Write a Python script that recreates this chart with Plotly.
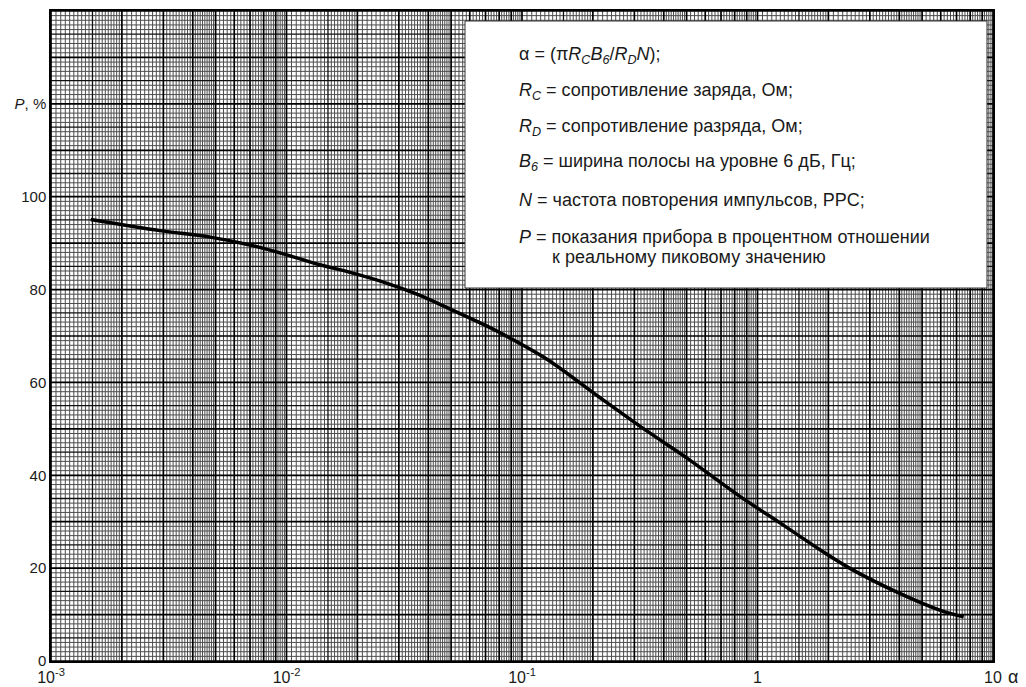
import numpy as np
import plotly.graph_objects as go

# ---- data ----
alpha = [0.001475, 0.0029, 0.00474, 0.0070, 0.0097, 0.01345, 0.01863, 0.02581,
         0.03577, 0.04955, 0.0686, 0.0807, 0.1276, 0.2147, 0.340, 0.502, 0.845,
         1.25, 1.85, 2.48, 4.04, 5.98, 7.51]
P_pct = [95.1, 92.7, 91.3, 89.6, 87.7, 85.5, 83.7, 81.6,
         79.0, 75.8, 72.5, 70.7, 65.0, 56.7, 49.5, 43.7, 35.4,
         29.7, 23.9, 19.9, 14.5, 10.9, 9.5]

x_tickvals = [0.001, 0.01, 0.1, 1, 10]
x_ticktext = ["10<sup>-3</sup>", "10<sup>-2</sup>", "10<sup>-1</sup>", "1", "10"]
y_tickvals = [0, 20, 40, 60, 80, 100, 120]
y_ticktext = ["0", "20", "40", "60", "80", "100", "<i>P</i>, %"]

legend_lines = [
    "α = (π<i>R<sub>C</sub>B<sub>6</sub></i>/<i>R<sub>D</sub>N</i>);",
    "<i>R<sub>C</sub></i> = сопротивление заряда, Ом;",
    "<i>R<sub>D</sub></i> = сопротивление разряда, Ом;",
    "<i>B<sub>6</sub></i> = ширина полосы на уровне 6 дБ, Гц;",
    "<i>N</i> = частота повторения импульсов, PPC;",
    "<i>P</i> = показания прибора в процентном отношении",
    "к реальному пиковому значению",
]

Y_MAX = 140
FONT = "Liberation Sans, Arial, sans-serif"

# ---- log-paper grid positions ----
minor_x, mid_x, major_x = [], [], []
for e in range(-3, 1):
    d = 10.0 ** e
    subs = list(np.arange(1.0, 2.0, 0.05)) + list(np.arange(2.0, 5.0, 0.1)) + list(np.arange(5.0, 10.0, 0.2))
    for s in subs:
        s = round(s, 3)
        v = s * d
        if abs(s - round(s)) < 1e-6:
            major_x.append(v)
        elif abs(s - 1.5) < 1e-6:
            mid_x.append(v)
        else:
            minor_x.append(v)
major_x.append(10.0)

minor_y = [v for v in range(0, Y_MAX + 1) if v % 5 != 0]
mid_y = [v for v in range(0, Y_MAX + 1) if v % 5 == 0 and v % 10 != 0]
major_y = [v for v in range(0, Y_MAX + 1, 10)]


def vlines(xs):
    X, Y = [], []
    for v in xs:
        X += [v, v, None]
        Y += [0, Y_MAX, None]
    return X, Y


def hlines(ys):
    X, Y = [], []
    for v in ys:
        X += [0.001, 10, None]
        Y += [v, v, None]
    return X, Y


fig = go.Figure()

def add_grid(fn, vals, color, width):
    X, Y = fn(vals)
    fig.add_trace(go.Scatter(x=X, y=Y, mode="lines",
                             line=dict(color=color, width=width),
                             hoverinfo="skip", showlegend=False))

add_grid(vlines, minor_x, "#4d4d4d", 1)
add_grid(hlines, minor_y, "#4d4d4d", 1)
add_grid(vlines, mid_x, "#111111", 1.3)
add_grid(hlines, mid_y, "#111111", 1.3)
add_grid(vlines, major_x, "#000000", 1.7)
add_grid(hlines, major_y, "#000000", 1.7)

fig.add_trace(go.Scatter(x=alpha, y=P_pct, mode="lines",
                         line=dict(color="#000000", width=3.5, shape="spline", smoothing=0.9),
                         hoverinfo="skip", showlegend=False))

# legend box
fig.add_shape(type="rect", xref="paper", yref="paper",
              x0=0.4395, x1=0.9936, y0=0.5738, y1=0.9846,
              fillcolor="white", line=dict(color="#333333", width=1), layer="above")

ys = [0.9323, 0.8754, 0.8215, 0.7662, 0.7092, 0.6523, 0.6215]
xs = [0.4947] * 6 + [0.5297]
for t, xx, yy in zip(legend_lines, xs, ys):
    fig.add_annotation(text=t, x=xx, y=yy, xref="paper", yref="paper",
                       xanchor="left", yanchor="middle", showarrow=False,
                       font=dict(family=FONT, size=18, color="#1a1a1a"))

fig.add_annotation(text="α", x=1.021, y=-0.024, xref="paper", yref="paper",
                   xanchor="center", yanchor="middle", showarrow=False,
                   font=dict(family=FONT, size=18, color="#1a1a1a"))

fig.update_xaxes(type="log", range=[-3, 1], tickvals=x_tickvals, ticktext=x_ticktext,
                 showgrid=False, zeroline=False, showline=True, mirror=True,
                 linecolor="black", linewidth=1.5, ticks="", automargin=False,
                 ticklabelstandoff=1,
                 tickfont=dict(family=FONT, size=16, color="#1a1a1a"))
fig.update_yaxes(range=[0, Y_MAX], tickvals=y_tickvals, ticktext=y_ticktext,
                 showgrid=False, zeroline=False, showline=True, mirror=True,
                 linecolor="black", linewidth=1.5, ticks="", automargin=False,
                 tickfont=dict(family=FONT, size=15, color="#1a1a1a"))

# the page body adds an 8px offset, so the figure is 8px smaller on each axis
fig.update_layout(width=1018, height=679,
                  margin=dict(l=43, r=33, t=3, b=26),
                  paper_bgcolor="white", plot_bgcolor="white",
                  showlegend=False)

fig.write_html("out.html")
